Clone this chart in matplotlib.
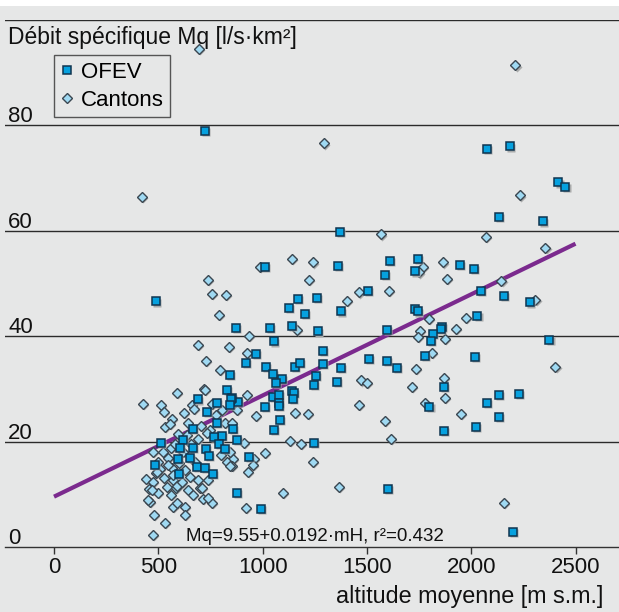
import matplotlib
matplotlib.use("Agg")
import matplotlib.pyplot as plt
from matplotlib.patches import Rectangle
from matplotlib.transforms import offset_copy

# ---------------- data ----------------
ofev_alt = [723, 2074, 2184, 2418, 2452, 2131, 2342, 1370, 1609, 1743, 1944, 2011, 1585, 1729,
            2045, 2155, 2280, 1729, 1743, 2030, 1595, 1858, 1853, 1815, 1805, 2375, 1595, 1643,
            1777, 2016, 1868, 1800, 2074, 2131, 2227, 2131, 2021, 1868, 2198,
            1010, 1360, 1168, 1259, 1504, 1125, 1202, 1374, 872, 1034, 1140, 1264, 1054, 967,
            1288, 919, 1288, 1509, 1015, 1154, 1178, 1374, 843, 1049, 1255, 1092, 1063, 1355,
            1245, 828, 881, 852, 1049, 1077, 1140, 1149, 1145, 1077, 1077, 1010, 1082, 1054,
            857, 876, 1245, 934, 1600, 876, 991,
            690, 733, 781, 848, 843, 781, 805, 766, 790, 819, 512, 618, 666, 603, 594, 651,
            666, 685, 723, 728, 742, 761, 599, 484, 488]
ofev_mq = [78.9, 75.6, 76.0, 69.2, 68.4, 62.7, 61.8, 59.8, 54.3, 54.7, 53.6, 52.8, 51.7, 52.3,
           48.6, 47.7, 46.4, 45.2, 44.7, 43.9, 41.2, 41.8, 41.4, 40.5, 39.1, 39.3, 35.3, 34.0,
           36.3, 36.1, 30.4, 26.6, 27.4, 28.9, 29.1, 24.7, 22.8, 22.0, 2.9,
           53.2, 53.4, 47.1, 47.3, 48.6, 45.4, 44.3, 44.7, 41.6, 41.6, 42.0, 40.9, 39.0, 36.7,
           37.2, 35.0, 34.8, 35.7, 34.2, 34.2, 35.0, 34.0, 32.7, 32.9, 32.5, 31.9, 31.2, 31.4,
           30.8, 29.8, 27.6, 28.3, 28.5, 28.9, 29.6, 29.3, 28.1, 27.4, 26.8, 26.6, 24.1, 22.2,
           22.4, 20.3, 19.8, 17.1, 11.0, 10.3, 7.2,
           28.0, 25.7, 27.4, 28.1, 27.0, 23.6, 21.1, 20.9, 19.6, 18.6, 19.8, 20.3, 22.4, 18.8,
           16.7, 16.9, 18.8, 15.2, 15.0, 18.6, 17.3, 13.9, 13.9, 15.6, 46.6]

cant_alt = [695, 2212, 1293, 2232, 421, 2069, 2356, 1566,
            1767, 1863, 1748, 1882, 1604, 2145, 2308, 1796, 1973, 1753, 1925, 1743, 1872, 1810,
            1734, 2404, 1868, 1714, 1872, 1777, 1949, 2155,
            987, 1140, 1240, 737, 1221, 757, 824, 1461, 1403, 790, 1164, 934, 690, 838, 924, 728,
            795, 1470, 1499, 718,
            924, 967, 1154, 1216, 1461, 1585, 910, 1130, 1183, 1614, 1010, 958, 953, 929, 1240,
            857, 852, 1365, 1097, 919,
            426, 589, 723, 512, 527, 565, 532, 556, 623, 661, 670, 757, 805, 776, 876, 819, 852,
            747, 733, 800, 843, 828, 843, 637, 675, 441, 455, 474, 488, 508, 498, 460, 479, 527,
            541, 560, 532, 570, 584, 608, 570, 589, 627, 642, 666, 699, 714, 757, 690, 651, 627,
            474, 522, 546, 565, 498, 474, 560, 627, 737, 737,
            493, 546, 570, 589, 613, 709, 469, 450, 600, 620, 655, 690, 705, 596, 580, 640]
cant_mq = [94.5, 91.4, 76.6, 66.7, 66.5, 58.9, 56.8, 59.3,
           53.2, 54.0, 52.1, 50.9, 48.6, 50.5, 46.9, 43.3, 43.5, 41.0, 41.4, 39.9, 39.5, 36.9,
           33.8, 34.2, 32.1, 30.4, 28.3, 27.4, 25.3, 8.4,
           53.2, 54.7, 54.0, 50.7, 50.7, 48.1, 47.9, 48.3, 46.7, 44.1, 41.2, 40.1, 38.4, 38.0,
           36.9, 35.3, 33.6, 31.6, 31.2, 30.0,
           28.9, 24.9, 25.5, 25.3, 27.0, 24.0, 19.8, 20.1, 19.6, 20.5, 17.9, 16.7, 15.6, 14.3,
           16.2, 16.7, 15.4, 11.4, 10.3, 7.4,
           27.2, 29.3, 29.8, 27.0, 25.7, 24.3, 22.8, 23.4, 25.5, 27.0, 26.2, 27.2, 26.0, 25.1,
           26.0, 23.6, 23.6, 22.2, 21.7, 17.5, 18.1, 16.2, 15.4, 21.3, 16.2, 12.9, 11.0, 12.4,
           14.1, 14.8, 10.3, 8.6, 6.1, 13.1, 11.4, 9.9, 4.6, 12.7, 11.2, 12.2, 7.6, 8.4, 7.6,
           10.8, 9.9, 11.2, 9.1, 8.4, 12.7, 13.3, 14.6,
           2.3, 18.1, 16.9, 15.0, 16.2, 18.1, 18.8, 6.1, 12.7, 9.3,
           14.3, 15.6, 13.7, 11.6, 12.4, 11.2, 10.8, 8.9, 16.0, 18.0, 19.5, 20.5, 23.0, 21.5,
           19.5, 23.5]

fit_intercept = 9.55
fit_slope = 0.0192
fit_range = [0, 2500]

x_ticks = [0, 500, 1000, 1500, 2000, 2500]
y_ticks = [0, 20, 40, 60, 80]
y_grid = [20, 40, 60, 80, 100]

series_labels = ["OFEV", "Cantons"]
y_title = "Débit spécifique Mq [l/s·km²]"
x_title = "altitude moyenne [m s.m.]"
formula = "Mq=9.55+0.0192·mH, r²=0.432"

# ---------------- style ----------------
BG = "#e6e7e7"
W, H = 619, 612
plt.rcParams['font.family'] = ['Liberation Sans', 'DejaVu Sans']

fig = plt.figure(figsize=(W / 100, H / 100), dpi=100, facecolor=BG)
fig.patches.append(Rectangle((0, 1 - 6 / H), 1, 6 / H, transform=fig.transFigure,
                             facecolor="white", edgecolor="none", zorder=0))

ax = fig.add_axes([5 / W, 65 / H, 614 / W, 527 / H])
ax.set_facecolor(BG)
ax.set_xlim(-235, 2708.5)
ax.set_ylim(0, 100)
for s in ["top", "left", "right"]:
    ax.spines[s].set_visible(False)
ax.spines["bottom"].set_color("#333333")
ax.spines["bottom"].set_linewidth(1.0)

for g in y_grid:
    ax.axhline(g, color="#2b2b2b", lw=1.0, zorder=1)

ax.set_yticks([])
ax.set_xticks(x_ticks)
ax.set_xticklabels([str(t) for t in x_ticks])
ax.tick_params(axis="x", direction="out", length=5, width=1, color="#333333",
               labelsize=16, pad=2.5, labelcolor="#111111")

for v in y_ticks:
    ax.annotate(str(v), xy=(0, v), xycoords=("axes fraction", "data"),
                xytext=(2.2, 2.2), textcoords="offset points",
                ha="left", va="baseline", fontsize=16, color="#111111")

ax.annotate(y_title, xy=(0, 100), xycoords=("axes fraction", "data"),
            xytext=(2.2, -17.3), textcoords="offset points",
            ha="left", va="baseline", fontsize=16.5, color="#111111")

fig.text(603 / W, 1 - 603 / H, x_title, ha="right", va="baseline",
         fontsize=16.8, color="#111111")

# regression line
fx = fit_range
fy = [fit_intercept + fit_slope * x for x in fx]
ax.plot(fx, fy, color="#7b2a8e", lw=3.0, solid_capstyle="butt", zorder=2)

# shadows
sh = offset_copy(ax.transData, fig=fig, x=1.2, y=-1.2, units="dots")
ax.plot(cant_alt, cant_mq, ls="none", marker="D", ms=5.0, mfc="#a9abab", mec="none",
        transform=sh, zorder=3)
ax.plot(cant_alt, cant_mq, ls="none", marker="D", ms=5.0, mfc="#9fd9f2", mec="#3a4650",
        mew=1.0, zorder=4, label=series_labels[1])
ax.plot(ofev_alt, ofev_mq, ls="none", marker="s", ms=5.5, mfc="#a9abab", mec="none",
        transform=sh, zorder=5)
ax.plot(ofev_alt, ofev_mq, ls="none", marker="s", ms=5.5, mfc="#06a1df", mec="#0f3550",
        mew=1.1, zorder=6, label=series_labels[0])

ax.text(1251, 1.1, formula, ha="center", va="baseline", fontsize=13.5,
        color="#111111", zorder=7)

h, l = ax.get_legend_handles_labels()
leg = ax.legend(h[::-1], l[::-1], loc="upper left",
                bbox_to_anchor=(54 / W, 1 - 55 / H), bbox_transform=fig.transFigure,
                fontsize=16, frameon=True, fancybox=False, borderaxespad=0,
                handlelength=0.55, handletextpad=0.35, borderpad=0.3, labelspacing=0.32,
                facecolor=BG, edgecolor="#555555", framealpha=1)
leg.get_frame().set_linewidth(1.0)
leg.set_zorder(10)

fig.savefig("out.png", dpi=100, facecolor=BG)
